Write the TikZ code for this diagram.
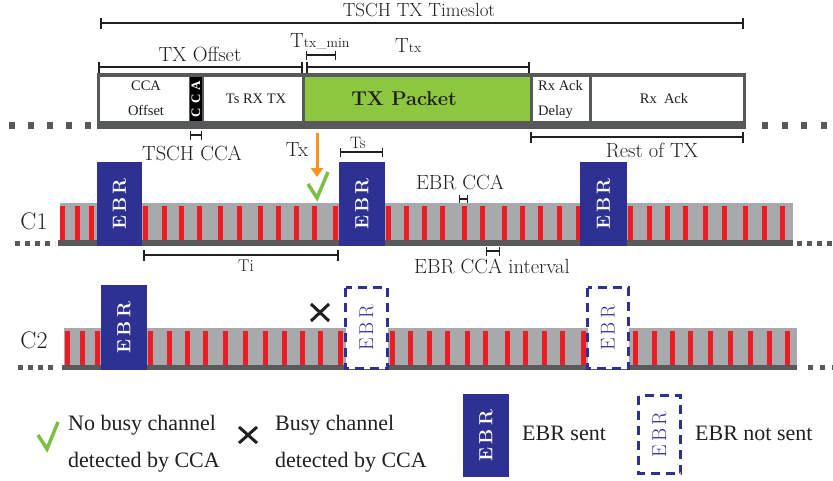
\documentclass[tikz,border=0pt]{standalone}
\usepackage{fontspec}
\newfontfamily\cellfont{Liberation Serif}
\usetikzlibrary{arrows.meta}

\definecolor{ebrblue}{HTML}{2E3192}
\definecolor{ccared}{HTML}{ED1C24}
\definecolor{bandgray}{HTML}{A7A9AC}
\definecolor{bargray}{HTML}{58595B}
\definecolor{pktgreen}{HTML}{8DC63F}
\definecolor{okgreen}{HTML}{7AC143}
\definecolor{txorange}{HTML}{F7941D}
\definecolor{inkblack}{HTML}{231F20}

\newcommand{\subtx}[1]{{\fontsize{14}{14}\selectfont #1}}

\tikzset{
  dimline/.style = {arrows = {Bar[width = 11pt]-Bar[width = 11pt]}, line width = 1.6pt, draw = inkblack},
  shortdim/.style = {arrows = {Bar[width = 9pt]-Bar[width = 9pt]}, line width = 1.4pt, draw = inkblack},
  cmtext/.style = {text = inkblack, inner sep = 0pt, font = \fontsize{20.5}{24}\selectfont},
  celltext/.style = {text = inkblack, inner sep = 0pt, align = center, font = \cellfont\fontsize{14.5}{25}\selectfont},
  legtext/.style = {text = inkblack, inner sep = 0pt, anchor = base west, font = \cellfont\fontsize{22}{26}\selectfont},
  ebrsent/.style = {fill = ebrblue, rotate = 90, inner sep = 0pt, text = white, font = \bfseries\fontsize{19}{19}\selectfont},
  ebrnotsent/.style = {fill = white, draw = ebrblue, line width = 3pt, dash pattern = on 9pt off 6pt, rotate = 90, inner sep = 0pt, text = ebrblue, font = \fontsize{20}{20}\selectfont},
  okmark/.style = {draw = okgreen, line width = 3.5pt},
  busymark/.style = {draw = inkblack, line width = 3pt},
  stripe/.style = {fill = ccared}
}

\begin{document}
\begin{tikzpicture}[x = 1pt, y = -1pt]
  \useasboundingbox (0, 0) rectangle (833, 480);

  % timeslot
  % --------
  \node[cmtext, font = \fontsize{19}{22}\selectfont] (slot) at (419, 10) {TSCH TX Timeslot};
  \draw[dimline] (100, 23) -- (744, 23);
  \node[cmtext] (offset) at (200, 54) {TX Offset};
  \draw[dimline] (98, 67) -- (303, 67);
  \node[cmtext, anchor = base west] (ttxmin) at (290, 47) {T\subtx{tx\_min}};
  \draw[shortdim] (306, 55) -- (336, 55);
  \node[cmtext, anchor = base west] (ttx) at (395, 52) {T\subtx{tx}};
  \draw[dimline] (306, 67) -- (530, 67);

  % frame
  % -----
  \fill[bargray] (97, 73) rectangle (746, 129);
  \fill[white] (100, 77) rectangle (189, 121);
  \fill[black] (190, 77) rectangle (202, 121);
  \fill[white] (204, 77) rectangle (302, 121);
  \fill[pktgreen] (305, 77) rectangle (530, 121);
  \fill[white] (533, 77) rectangle (589, 121);
  \fill[white] (592, 77) rectangle (743, 121);

  \node[celltext] (ccaoff) at (146, 98) {CCA\\Offset};
  \node[text = white, rotate = 90, inner sep = 0pt, font = \cellfont\bfseries\fontsize{13}{13}\selectfont]
    (cca) at (196, 99) {C\hspace{4pt}C\hspace{4pt}A};
  \node[celltext] (tsrxtx) at (256, 99) {Ts RX TX};
  \node[cmtext, font = \bfseries\fontsize{20}{22}\selectfont] (packet) at (404, 99) {TX Packet};
  \node[celltext, align = left, anchor = west] (ackdelay) at (538, 100) {Rx Ack\\Delay};
  \node[celltext] (rxack) at (664, 99) {Rx~~Ack};

  \draw[bargray, line width = 7pt, dash pattern = on 6pt off 13pt] (9, 125.5) -- (97, 125.5);
  \draw[bargray, line width = 7pt, dash pattern = on 6pt off 13.5pt] (762, 125.5) -- (833, 125.5);

  % marks
  % -----
  \draw[shortdim] (190, 135) -- (202, 135);
  \node[cmtext] (tschcca) at (192, 153) {TSCH CCA};
  \node[cmtext] (tx) at (297, 150) {Tx};
  \draw[txorange, line width = 3pt, -{Triangle[width = 12pt, length = 9pt]}] (317, 133) -- (317, 177);
  \draw[okmark] (308, 184) -- (317, 198) -- (328, 172);
  \node[cmtext, font = \fontsize{16.5}{19}\selectfont] (ts) at (358, 143) {Ts};
  \draw[shortdim] (340, 152) -- (383, 152);
  \node[cmtext] (restlab) at (652, 150) {Rest of TX};
  \draw[dimline] (530, 137) -- (744, 137);
  \node[cmtext] (ebrcca) at (460, 182) {EBR CCA};
  \draw[shortdim] (459, 199) -- (468, 199);

  % channel C1
  % ----------
  \node[cmtext, font = \fontsize{24}{28}\selectfont] (cone) at (34, 221) {C1};
  \fill[bandgray] (60, 203) rectangle (793, 240);
  \foreach \x in {60, 75, 89, 143, 162, 179, 197, 218, 237, 258, 276, 294, 312, 333,
                  386, 404, 422, 440, 462, 480, 502, 520, 538, 557, 576,
                  628, 647, 665, 683, 703, 722, 743, 762, 780}
    \fill[stripe] (\x, 206) rectangle ++(5, 34);
  \fill[bargray] (58, 240) rectangle (793, 246);
  \draw[bargray, line width = 5pt, dash pattern = on 5pt off 5pt] (15, 243) -- (55, 243);
  \draw[bargray, line width = 5pt, dash pattern = on 5pt off 5pt] (797, 243) -- (833, 243);

  \node[ebrsent, minimum width = 84pt, minimum height = 45pt] (ebra) at (119.5, 204) {E\hspace{3pt}B\hspace{3pt}R};
  \node[ebrsent, minimum width = 84pt, minimum height = 46pt] (ebrb) at (362, 204) {E\hspace{3pt}B\hspace{3pt}R};
  \node[ebrsent, minimum width = 84pt, minimum height = 47pt] (ebrc) at (603.5, 204) {E\hspace{3pt}B\hspace{3pt}R};

  \draw[dimline] (143, 255) -- (339, 255);
  \node[cmtext, font = \fontsize{17}{20}\selectfont] (ti) at (246, 266) {Ti};
  \node[cmtext] (interval) at (492, 266) {EBR CCA interval};
  \draw[shortdim] (486, 251) -- (500, 251);

  % channel C2
  % ----------
  \node[cmtext, font = \fontsize{24}{28}\selectfont] (ctwo) at (34, 340) {C2};
  \fill[bandgray] (64, 328) rectangle (797, 365);
  \foreach \x in {65, 80, 95, 148, 167, 185, 203, 223, 243, 263, 282, 300, 318, 338,
                  390, 408, 427, 445, 465, 483, 505, 523, 542, 560, 581,
                  633, 652, 670, 688, 708, 728, 748, 767, 785}
    \fill[stripe] (\x, 331) rectangle ++(5, 34);
  \fill[bargray] (62, 365) rectangle (797, 370);
  \draw[bargray, line width = 5pt, dash pattern = on 5pt off 5pt] (18, 367.5) -- (57, 367.5);
  \draw[bargray, line width = 5pt, dash pattern = on 5pt off 7pt] (808, 367.5) -- (833, 367.5);

  \node[ebrsent, minimum width = 85pt, minimum height = 46pt] (ebrd) at (124, 327.5) {E\hspace{3pt}B\hspace{3pt}R};
  \node[ebrnotsent, minimum width = 81pt, minimum height = 42pt] (ebre) at (366.5, 328) {E\,B\,R};
  \node[ebrnotsent, minimum width = 81pt, minimum height = 41pt] (ebrf) at (608, 328) {E\,B\,R};
  \draw[busymark] (311, 304) -- (329, 321) (311, 321) -- (329, 304);

  % legend
  % ------
  \draw[okmark] (38, 435) -- (47, 449) -- (58, 422);
  \node[legtext] (nobusya) at (68, 430) {No busy channel};
  \node[legtext] (nobusyb) at (68, 467) {detected by CCA};
  \draw[busymark] (239, 427) -- (257, 443) (239, 443) -- (257, 427);
  \node[legtext] (busya) at (275, 430) {Busy channel};
  \node[legtext] (busyb) at (275, 467) {detected by CCA};
  \node[ebrsent, minimum width = 83pt, minimum height = 46pt] (legsent) at (486, 435.5) {E\hspace{3pt}B\hspace{3pt}R};
  \node[legtext] (sentlab) at (522, 440) {EBR sent};
  \node[ebrnotsent, minimum width = 78pt, minimum height = 42pt] (legnot) at (659.5, 434.5) {E\,B\,R};
  \node[legtext] (notlab) at (695, 440) {EBR not sent};
\end{tikzpicture}
\end{document}
